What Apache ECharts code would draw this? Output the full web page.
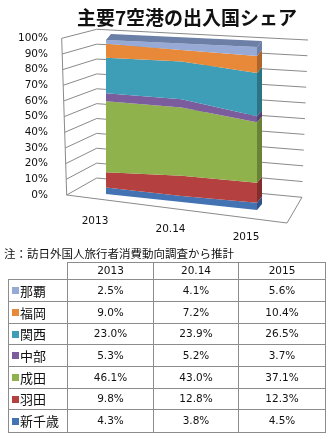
<!DOCTYPE html>
<html><head><meta charset="utf-8">
<script src="https://cdn.jsdelivr.net/npm/echarts@6/dist/echarts.min.js"></script>
<style>html,body{margin:0;padding:0;background:#fff}#c{width:334px;height:439px}</style>
</head><body><div id="c"></div>
<script>
// ---- data ----
const titleText = '主要7空港の出入国シェア';
const noteText = '注：訪日外国人旅行者消費動向調査から推計';
const years = ['2013', '20.14', '2015'];
const airports = ['新千歳', '羽田', '成田', '中部', '関西', '福岡', '那覇']; // bottom -> top
const shinChitose = [4.3, 3.8, 4.5];
const haneda = [9.8, 12.8, 12.3];
const narita = [46.1, 43.0, 37.1];
const chubu = [5.3, 5.2, 3.7];
const kansai = [23.0, 23.9, 26.5];
const fukuoka = [9.0, 7.2, 10.4];
const naha = [2.5, 4.1, 5.6];
const yTicks = [0, 10, 20, 30, 40, 50, 60, 70, 80, 90, 100];

// ---- styles ----
const colors = ['#4473B3', '#B4413F', '#8FB24D', '#7B5C9D', '#3E9EB7', '#E8893A', '#97AAD6'];
const sideColors = ['#2F5286', '#832E2D', '#688236', '#574172', '#2B7486', '#B0652A', '#6E80A8'];
const topColor = '#6B7FA7';
const lineColor = '#8A8A8A';
const numFont = '"DejaVu Sans", sans-serif';
const jpFont = '"Noto Sans CJK JP", sans-serif';

const bands = [shinChitose, haneda, narita, chubu, kansai, fukuoka, naha];
let acc = [0, 0, 0];
const bandData = bands.map(b => {
  const lo = acc.slice();
  acc = acc.map((a, i) => a + b[i]);
  return [0, 0].concat(lo, acc);
});

// perspective adjustment of front plane (grid 0 maps the 2013 front edge)
const FX0 = 106, FX1 = 257, FB = 194, DROP = 16, GROW = 0.058, DX = 5, DY = -6;
function proj(p) {
  const t = (p[0] - FX0) / (FX1 - FX0);
  const base = FB + DROP * t;
  return [p[0], base - (FB - p[1]) * (1 + GROW * t)];
}
function off(p) { return [p[0] + DX, p[1] + DY]; }

const bandSeries = bands.map((b, j) => ({
  type: 'custom', name: airports[j], coordinateSystem: 'cartesian2d',
  xAxisIndex: 0, yAxisIndex: 0, encode: { x: 0, y: 1 }, silent: true, z: 5,
  data: [bandData[j]],
  renderItem: (params, api) => {
    const lo = [api.value(2), api.value(3), api.value(4)];
    const hi = [api.value(5), api.value(6), api.value(7)];
    const top = [0, 1, 2].map(i => proj(api.coord([i, hi[i]])));
    const bot = [0, 1, 2].map(i => proj(api.coord([i, lo[i]])));
    const children = [
      { type: 'polygon', shape: { points: top.concat(bot.slice().reverse()) }, style: { fill: colors[j] } },
      { type: 'polygon', shape: { points: [bot[2], top[2], off(top[2]), off(bot[2])] }, style: { fill: sideColors[j] } }
    ];
    if (j === bands.length - 1) {
      children.push({ type: 'polygon', shape: { points: top.concat(top.slice().reverse().map(off)) }, style: { fill: topColor } });
    }
    return { type: 'group', children };
  }
}));

// walls (grid 1 carries the value axis labels)
const A0 = [66.7, 195], A100 = [61.7, 38.3];
const B0 = [96.7, 178], B100 = [96.7, 29.3];
const C0 = [302, 197.3], C100 = [308, 40];
const Dfloor = [287, 223];
function lerp(a, b, f) { return [a[0] + (b[0] - a[0]) * f, a[1] + (b[1] - a[1]) * f]; }
const wallSeries = {
  type: 'custom', coordinateSystem: 'cartesian2d', xAxisIndex: 1, yAxisIndex: 1,
  encode: { x: 0, y: 1 }, silent: true, z: 1,
  data: yTicks.map(v => [0, v]),
  renderItem: (params, api) => {
    const v = api.value(1);
    const y = api.coord([0, v])[1];
    const y0 = api.coord([0, 0])[1], y1 = api.coord([0, 100])[1];
    const f = (y0 - y) / (y0 - y1);
    const a = [A0[0] + (A100[0] - A0[0]) * f, y];
    const pts = [a, lerp(B0, B100, f), lerp(C0, C100, f)];
    const ls = { stroke: lineColor, lineWidth: 1, fill: null };
    const children = [{ type: 'polyline', shape: { points: pts }, style: ls }];
    if (params.dataIndex === 0) {
      children.push({ type: 'polyline', shape: { points: [C0, Dfloor, [A0[0], y0]] }, style: ls });
      children.push({ type: 'line', shape: { x1: A0[0], y1: y0, x2: A100[0], y2: y1 }, style: ls });
    }
    return { type: 'group', children };
  }
};

const xLabelSeries = {
  type: 'custom', coordinateSystem: 'cartesian2d', xAxisIndex: 0, yAxisIndex: 0,
  encode: { x: 0, y: 1 }, silent: true, z: 6,
  data: years.map((y, i) => [i, 0]),
  renderItem: (params, api) => {
    const p = proj(api.coord([api.value(0), 0]));
    return { type: 'text', x: p[0] - 11, y: p[1] + 27,
      style: { text: years[params.dataIndex], fill: '#111', font: '10.5px ' + numFont, align: 'center', verticalAlign: 'middle' } };
  }
};

// ---- table via graphic ----
const colX = [8, 67, 153, 238, 325];
const rowY = [262, 279, 301, 323, 344, 366, 388, 409, 432];
const g = [];
const ls = { stroke: '#8C8C8C', lineWidth: 1 };
function hl(x1, x2, y) { g.push({ type: 'line', shape: { x1, y1: y + 0.5, x2, y2: y + 0.5 }, style: ls, silent: true }); }
function vl(x, y1, y2) { g.push({ type: 'line', shape: { x1: x + 0.5, y1, x2: x + 0.5, y2 }, style: ls, silent: true }); }
hl(colX[1], colX[4] + 1, rowY[0]);
for (let r = 1; r < rowY.length; r++) hl(colX[0], colX[4] + 1, rowY[r]);
vl(colX[0], rowY[1], rowY[8] + 1);
for (let c = 1; c < colX.length; c++) vl(colX[c], rowY[0], rowY[8] + 1);
years.forEach((y, c) => {
  g.push({ type: 'text', x: (colX[c + 1] + colX[c + 2]) / 2 + 0.5, y: (rowY[0] + rowY[1]) / 2 + 1,
    style: { text: y, fill: '#111', font: '10.5px ' + numFont, align: 'center', verticalAlign: 'middle' }, silent: true });
});
for (let r = 0; r < airports.length; r++) {
  const j = airports.length - 1 - r;
  const cy = (rowY[r + 1] + rowY[r + 2]) / 2 + 1;
  g.push({ type: 'rect', shape: { x: 12, y: Math.round(cy) - 4, width: 7, height: 7 }, style: { fill: colors[j] }, silent: true });
  g.push({ type: 'text', x: 20, y: cy, style: { text: airports[j], fill: '#111', font: '13px ' + jpFont, align: 'left', verticalAlign: 'middle' }, silent: true });
  bands[j].forEach((val, c) => {
    g.push({ type: 'text', x: (colX[c + 1] + colX[c + 2]) / 2 + 0.5, y: cy,
      style: { text: val.toFixed(1) + '%', fill: '#111', font: '10.5px ' + numFont, align: 'center', verticalAlign: 'middle' }, silent: true });
  });
}
g.push({ type: 'text', x: 187, y: 18, style: { text: titleText, fill: '#111', font: 'bold 19px ' + jpFont, align: 'center', verticalAlign: 'middle' }, silent: true });
g.push({ type: 'text', x: 4, y: 254, style: { text: noteText, fill: '#111', font: '11.5px ' + jpFont, align: 'left', verticalAlign: 'middle' }, silent: true });

const chart = echarts.init(document.getElementById('c'));
chart.setOption({
  animation: false,
  backgroundColor: '#fff',
  grid: [
    { left: 106, right: 77, top: 40, bottom: 245 },
    { left: 62, right: 29, top: 38.3, bottom: 244 }
  ],
  xAxis: [
    { type: 'category', gridIndex: 0, data: years, boundaryGap: false, show: false },
    { type: 'value', gridIndex: 1, min: 0, max: 1, show: false }
  ],
  yAxis: [
    { type: 'value', gridIndex: 0, min: 0, max: 100, show: false },
    { type: 'value', gridIndex: 1, min: 0, max: 100, interval: 10,
      axisLine: { show: false }, axisTick: { show: false }, splitLine: { show: false },
      axisLabel: { formatter: '{value}%', margin: 14, color: '#111', fontSize: 10.5, fontFamily: 'DejaVu Sans', padding: [3, 0, 0, 0] } }
  ],
  series: [wallSeries].concat(bandSeries, [xLabelSeries]),
  graphic: g
});
</script>
</body></html>
